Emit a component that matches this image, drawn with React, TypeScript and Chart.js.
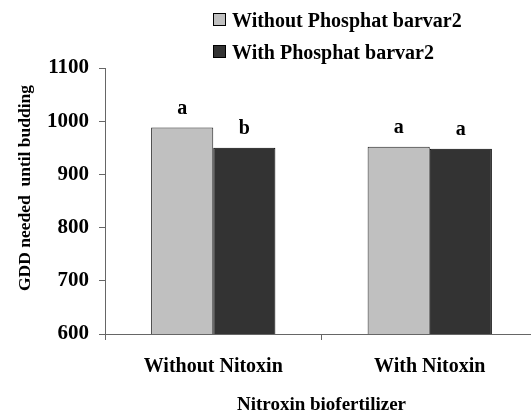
import React, { useEffect, useRef } from "react";
import { Chart, registerables } from "chart.js";

Chart.register(...registerables);

const categories = ["Without Nitoxin", "With Nitoxin"];
const seriesNames = ["Without Phosphat barvar2", "With Phosphat barvar2"];
const withoutPhosphat = [988, 952];
const withPhosphat = [950, 948];
const letterWithout = ["a", "a"];
const letterWith = ["b", "a"];
const yTicks = [600, 700, 800, 900, 1000, 1100];
const yTitle = "GDD needed  until budding";
const xTitle = "Nitroxin biofertilizer";
const seriesLetters = [letterWithout, letterWith];
const seriesColors = ["#C0C0C0", "#333333"];

const FONT = "'Liberation Serif', 'Times New Roman', serif";

const lettersPlugin = {
  id: "letters",
  afterDatasetsDraw(chart: any) {
    const ctx = chart.ctx;
    ctx.save();
    ctx.font = `bold 20px ${FONT}`;
    ctx.fillStyle = "#000";
    ctx.textAlign = "center";
    ctx.textBaseline = "middle";
    chart.data.datasets.forEach((ds: any, i: number) => {
      const meta = chart.getDatasetMeta(i);
      meta.data.forEach((bar: any, j: number) => {
        ctx.fillText(seriesLetters[i][j], bar.x, bar.y - 19);
      });
    });
    ctx.restore();
  },
};

const legendPlugin = {
  id: "customLegend",
  afterDraw(chart: any) {
    const ctx = chart.ctx;
    ctx.save();
    ctx.font = `bold 20px ${FONT}`;
    ctx.textBaseline = "alphabetic";
    ctx.textAlign = "left";
    const rows = [27, 59];
    chart.data.datasets.forEach((ds: any, i: number) => {
      const base = rows[i];
      ctx.fillStyle = ds.backgroundColor;
      ctx.fillRect(213.5, base - 13.5, 12, 12);
      ctx.strokeStyle = "#000";
      ctx.lineWidth = 1;
      ctx.strokeRect(213.5, base - 13.5, 12, 12);
      ctx.fillStyle = "#000";
      ctx.fillText(ds.label, 232, base);
    });
    // y-axis title
    ctx.translate(25, 188);
    ctx.rotate(-Math.PI / 2);
    ctx.font = `bold 17.5px ${FONT}`;
    ctx.textAlign = "center";
    ctx.textBaseline = "middle";
    ctx.fillText(yTitle, 0, 0);
    ctx.restore();
  },
};

export default function App() {
  const ref = useRef<HTMLCanvasElement | null>(null);
  useEffect(() => {
    if (!ref.current) return;
    const chart = new Chart(ref.current, {
      type: "bar",
      data: {
        labels: categories,
        datasets: [
          {
            label: seriesNames[0],
            data: withoutPhosphat,
            backgroundColor: seriesColors[0],
            borderColor: "#222",
            borderWidth: 1,
            barPercentage: 1,
            categoryPercentage: 0.574,
          },
          {
            label: seriesNames[1],
            data: withPhosphat,
            backgroundColor: seriesColors[1],
            borderColor: "#000",
            borderWidth: 1,
            barPercentage: 1,
            categoryPercentage: 0.574,
          },
        ],
      },
      options: {
        responsive: false,
        animation: false,
        layout: { padding: { top: 68, right: 0, left: 0, bottom: 0 } },
        plugins: { legend: { display: false }, tooltip: { enabled: false } },
        scales: {
          x: {
            grid: {
              display: true,
              drawOnChartArea: false,
              drawTicks: true,
              tickLength: 6,
              color: "#666",
            },
            border: { display: true, color: "#666" },
            ticks: {
              color: "#000",
              padding: 15,
              font: { family: FONT, size: 20, weight: "bold" },
            },
            title: {
              display: true,
              text: xTitle,
              color: "#000",
              padding: { top: 0, bottom: -2 },
              font: { family: FONT, size: 19, weight: "bold", lineHeight: 1 },
            },
            afterFit: (s: any) => {
              s.height = 79;
            },
          },
          y: {
            min: 600,
            max: 1100,
            afterBuildTicks: (s: any) => {
              s.ticks = yTicks.map((v) => ({ value: v }));
            },
            grid: {
              display: true,
              drawOnChartArea: false,
              drawTicks: true,
              tickLength: 6,
              color: "#666",
            },
            border: { display: true, color: "#666" },
            ticks: {
              color: "#000",
              padding: 10,
              font: { family: FONT, size: 21, weight: "bold" },
              callback: (v: any) => String(v),
            },
            title: { display: false },
            afterFit: (s: any) => {
              s.width = 105;
            },
          },
        },
      },
      plugins: [lettersPlugin, legendPlugin],
    });
    return () => chart.destroy();
  }, []);
  return (
    <div style={{ position: "fixed", left: 0, top: 0, width: 538, height: 413, background: "#fff" }}>
      <canvas ref={ref} width={538} height={413} style={{ width: 538, height: 413 }} />
    </div>
  );
}
